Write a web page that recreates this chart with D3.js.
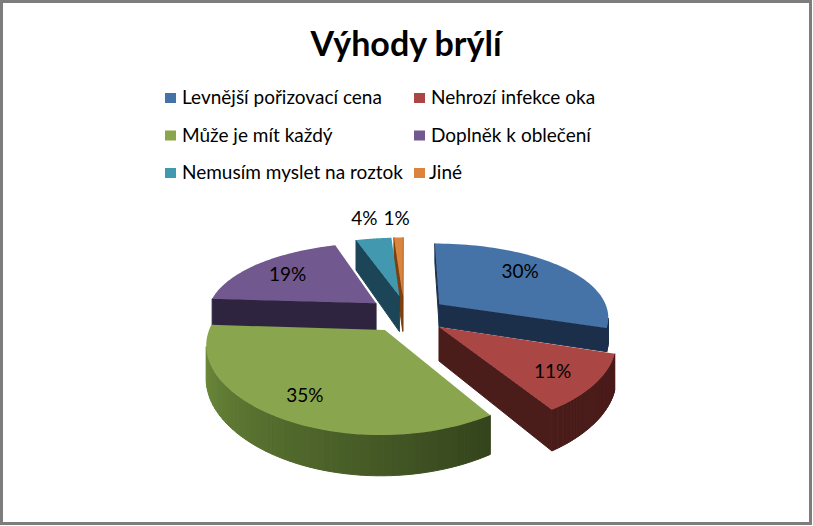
<!DOCTYPE html>
<html>
<head>
<meta charset="utf-8">
<script src="https://d3js.org/d3.v7.min.js"></script>
<style>
html, body { margin: 0; padding: 0; background: #fff; }
svg { display: block; }
text { font-family: Lato, "Open Sans", sans-serif; fill: #000; }
</style>
</head>
<body>
<svg width="813" height="526"></svg>
<script>
var title = "Výhody brýlí";
var categories = ["Levnější pořizovací cena", "Nehrozí infekce oka", "Může je mít každý", "Doplněk k oblečení", "Nemusím myslet na roztok", "Jiné"];
var values = [30, 11, 35, 19, 4, 1];
var valueLabels = ["30%", "11%", "35%", "19%", "4%", "1%"];

var topColors = ["#4572a7", "#aa4643", "#89a54e", "#71588f", "#4198af", "#db843d"];
var sideColors = ["#1b2f4b", "#4a1c1a", "#37461f", "#2e2440", "#1c4657", "#7a4012"];
var outerFrom = ["#1b2f4b", "#4a1c1a", "#74943f", "#2e2440", "#1c4657", "#7a4012"];
var outerTo = ["#1b2f4b", "#4a1c1a", "#34441c", "#2e2440", "#1c4657", "#7a4012"];

// pie layout, roughly fitted to the picture
var cx = 405, cy = 315, R = 170, explode = 42;
var squash = 0.45, perspX = 1100, perspY = 860;
var depths = [23, 33, 31, 29, 37, 37];
var drawOrder = [5, 4, 3, 0, 1, 2];
// per slice nudge in px, the source chart is not a clean projection
var sliceNudge = [[1, 0], [0, 0], [2, -2], [3.5, -0.5], [2, -1], [-1, -1]];
// label radius fraction, then nudge in px
var labelR = [0.6, 0.6, 0.55, 0.6, 1.05, 1.2];
var labelNudge = [[7, -8], [24, 13], [-23, 20], [-12, -4], [-6, -18], [-2, -10]];

var svg = d3.select("svg");

svg.append("rect").attr("x", 1.5).attr("y", 1.5).attr("width", 809).attr("height", 522)
  .attr("fill", "#fff").attr("stroke", "#7d7d7d").attr("stroke-width", 3);

svg.append("text").attr("x", 406).attr("y", 56).attr("text-anchor", "middle")
  .attr("font-size", 34).attr("font-weight", 700).text(title);

// legend, two columns
var legendX = d3.scaleOrdinal().domain([0, 1]).range([165, 414]);
var legendY = d3.scaleOrdinal().domain([0, 1, 2]).range([98, 135.5, 173]);
var legend = svg.append("g").selectAll("g").data(categories).enter().append("g")
  .attr("transform", function(d, i) { return "translate(" + legendX(i % 2) + "," + legendY(Math.floor(i / 2)) + ")"; });
legend.append("rect").attr("y", -5).attr("width", 11).attr("height", 10)
  .attr("fill", function(d, i) { return topColors[i]; });
legend.append("text").attr("x", function(d, i) { return i == 5 ? 15 : 17; }).attr("y", 6)
  .attr("font-size", 19).text(function(d) { return d; });

// pie slices
var slices = d3.pie().sort(null).value(function(d) { return d; })(values);

function project(s, a, r, h) {
  var mid = (s.startAngle + s.endAngle) / 2;
  var u = explode * Math.sin(mid) + r * Math.sin(a);
  var v = -(explode * Math.cos(mid) + r * Math.cos(a));
  var px = 1 / (1 - v / perspX), py = 1 / (1 - v / perspY);
  return [cx + u * px, cy + (v * squash + h) * py];
}

var line = d3.line();
var pieG = svg.append("g");

function drawFace(g, pts, fill) {
  // only faces turned to the viewer
  if (d3.polygonArea(pts) >= 0) return;
  g.append("path").attr("d", line(pts) + "Z").attr("fill", fill).attr("stroke", fill).attr("stroke-width", 1);
}

drawOrder.forEach(function(i) {
  var s = slices[i], depth = depths[i];
  var g = pieG.append("g").attr("transform", "translate(" + sliceNudge[i][0] + "," + sliceNudge[i][1] + ")");
  var steps = d3.range(0, 61).map(function(k) { return s.startAngle + (s.endAngle - s.startAngle) * k / 60; });
  var shade = d3.scaleLinear().domain([Math.PI * 1.52, Math.PI * 0.82]).range([outerFrom[i], outerTo[i]]).clamp(true);

  // radial side faces
  var a0 = project(s, 0, 0, 0), a1 = project(s, 0, 0, depth);
  drawFace(g, [project(s, s.startAngle, R, 0), a0, a1, project(s, s.startAngle, R, depth)], sideColors[i]);
  drawFace(g, [a0, project(s, s.endAngle, R, 0), project(s, s.endAngle, R, depth), a1], sideColors[i]);

  // outer rim
  for (var k = 0; k < steps.length - 1; k++) {
    drawFace(g, [
      project(s, steps[k + 1], R, 0), project(s, steps[k], R, 0),
      project(s, steps[k], R, depth), project(s, steps[k + 1], R, depth)
    ], shade(steps[k]));
  }

  // top
  var top = [a0].concat(steps.map(function(a) { return project(s, a, R, 0); }));
  g.append("path").attr("d", line(top) + "Z").attr("fill", topColors[i]);
});

// value labels
slices.forEach(function(s, i) {
  var mid = (s.startAngle + s.endAngle) / 2;
  var p = project(s, mid, R * labelR[i], 0);
  svg.append("text").attr("x", p[0] + labelNudge[i][0]).attr("y", p[1] + labelNudge[i][1] + 6)
    .attr("text-anchor", "middle").attr("font-size", 19).text(valueLabels[i]);
});
</script>
</body>
</html>
